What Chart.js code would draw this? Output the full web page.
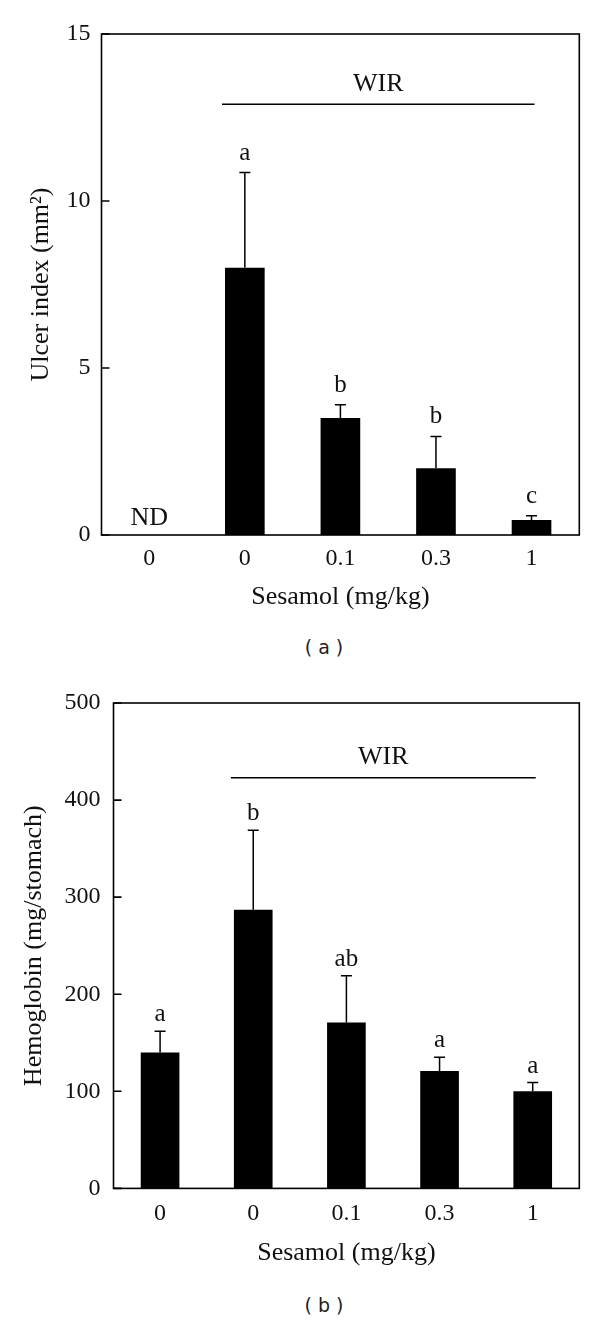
<!DOCTYPE html>
<html>
<head>
<meta charset="utf-8">
<script src="https://cdn.jsdelivr.net/npm/chart.js@4.4.1/dist/chart.umd.min.js"></script>
<style>
  body { margin: 0; background: #fff; width: 600px; height: 1321px; position: relative; overflow: hidden; }
  canvas { position: absolute; left: 0; }
  .caption { position: absolute; left: 224px; width: 200px; text-align: center; line-height: 22px;
             font-family: "DejaVu Sans", sans-serif; font-size: 19px; color: #222; white-space: pre; }
</style>
</head>
<body>
<canvas id="ulcer" width="600" height="620" style="top:0"></canvas>
<div class="caption" style="top:636px">( a )</div>
<canvas id="hemo" width="600" height="615" style="top:660px"></canvas>
<div class="caption" style="top:1294px">( b )</div>

<script>
// data
const doses = ['0', '0', '0.1', '0.3', '1'];

const ulcerMean = [null, 8.0, 3.5, 2.0, 0.45];   // null = not detected
const ulcerSem = [0, 2.85, 0.4, 0.95, 0.13];
const ulcerLetters = ['', 'a', 'b', 'b', 'c'];
const ulcerTicks = [0, 5, 10, 15];
const ulcerWirLevel = 12.9;

const hemoMean = [140, 287, 171, 121, 100];
const hemoSem = [22, 82, 48, 14, 9];
const hemoLetters = ['a', 'b', 'ab', 'a', 'a'];
const hemoTicks = [0, 100, 200, 300, 400, 500];
const hemoWirLevel = 423;

const serif = '"Liberation Serif", "Times New Roman", serif';

// error bars, letters, WIR bracket, frame and inward ticks
const annotate = {
  id: 'annotate',
  afterDatasetsDraw(chart, args, opts) {
    const { ctx, chartArea, scales: { x, y } } = chart;
    const meta = chart.getDatasetMeta(0);
    ctx.save();
    ctx.strokeStyle = '#000';
    ctx.fillStyle = '#111';
    ctx.textAlign = 'center';
    ctx.textBaseline = 'alphabetic';

    opts.mean.forEach((v, i) => {
      const cx = x.getPixelForValue(i);
      if (v === null) {
        ctx.font = '26px ' + serif;
        ctx.fillText('ND', cx, y.getPixelForValue(0) - 10);
        return;
      }
      const base = y.getPixelForValue(v);
      const top = y.getPixelForValue(v + opts.sem[i]);
      ctx.lineWidth = 1.5;
      ctx.beginPath();
      ctx.moveTo(cx, base);
      ctx.lineTo(cx, top);
      ctx.moveTo(cx - 5.5, top);
      ctx.lineTo(cx + 5.5, top);
      ctx.stroke();
      ctx.font = '25px ' + serif;
      ctx.fillText(opts.letters[i], cx, top - opts.letterGap);
    });

    // WIR line over the stressed groups
    const first = meta.data[1];
    const last = meta.data[meta.data.length - 1];
    const ly = y.getPixelForValue(opts.wir);
    const x0 = first.x - first.width / 2 - 3;
    const x1 = last.x + 3;
    ctx.lineWidth = 1.5;
    ctx.beginPath();
    ctx.moveTo(x0, ly);
    ctx.lineTo(x1, ly);
    ctx.stroke();
    ctx.font = '26px ' + serif;
    ctx.fillText('WIR', (x0 + x1) / 2, ly - 13.5);

    // frame
    ctx.lineWidth = 1.6;
    ctx.strokeRect(chartArea.left, chartArea.top, chartArea.width, chartArea.height);
    ctx.beginPath();
    y.ticks.forEach(t => {
      const py = y.getPixelForValue(t.value);
      ctx.moveTo(chartArea.left, py);
      ctx.lineTo(chartArea.left + 8, py);
    });
    ctx.stroke();
    ctx.restore();
  }
};

function makeChart(id, mean, sem, letters, ticks, wir, yTitle, box) {
  return new Chart(document.getElementById(id), {
    type: 'bar',
    data: {
      labels: doses,
      datasets: [{
        data: mean,
        backgroundColor: '#000',
        borderWidth: 0,
        barPercentage: 0.415,
        categoryPercentage: 1
      }]
    },
    options: {
      responsive: false,
      animation: false,
      layout: { padding: { top: box.top, right: box.right, left: 0, bottom: 0 } },
      plugins: {
        legend: { display: false },
        tooltip: { enabled: false },
        annotate: { mean, sem, letters, wir, letterGap: box.letterGap }
      },
      scales: {
        x: {
          grid: { display: false, drawTicks: false },
          border: { display: false },
          ticks: { padding: box.xPad, color: '#111', font: { family: serif, size: 24 } },
          title: {
            display: true, text: 'Sesamol (mg/kg)', color: '#111',
            font: { family: serif, size: 26 }, padding: { top: 0, bottom: box.xTitlePad }
          },
          afterFit: s => { s.height = box.xHeight; }
        },
        y: {
          min: ticks[0],
          max: ticks[ticks.length - 1],
          afterBuildTicks: s => { s.ticks = ticks.map(v => ({ value: v })); },
          grid: { display: false, drawTicks: false },
          border: { display: false },
          ticks: { padding: box.yPad, color: '#111', font: { family: serif, size: 24 } },
          title: {
            display: true, text: yTitle, color: '#111',
            font: { family: serif, size: 26 }, padding: { top: box.yTitlePad, bottom: 0 }
          },
          afterFit: s => { s.width = box.yWidth; }
        }
      }
    },
    plugins: [annotate]
  });
}

makeChart('ulcer', ulcerMean, ulcerSem, ulcerLetters, ulcerTicks, ulcerWirLevel, 'Ulcer index (mm²)',
  { top: 34, right: 20.7, yWidth: 101.5, xHeight: 85, xPad: 9.6, yPad: 11, xTitlePad: 7.4, yTitlePad: 25.4, letterGap: 13 });

makeChart('hemo', hemoMean, hemoSem, hemoLetters, hemoTicks, hemoWirLevel, 'Hemoglobin (mg/stomach)',
  { top: 43, right: 20.7, yWidth: 113.5, xHeight: 86.6, xPad: 11, yPad: 13, xTitlePad: 6.7, yTitlePad: 18.4, letterGap: 10 });
</script>
</body>
</html>
